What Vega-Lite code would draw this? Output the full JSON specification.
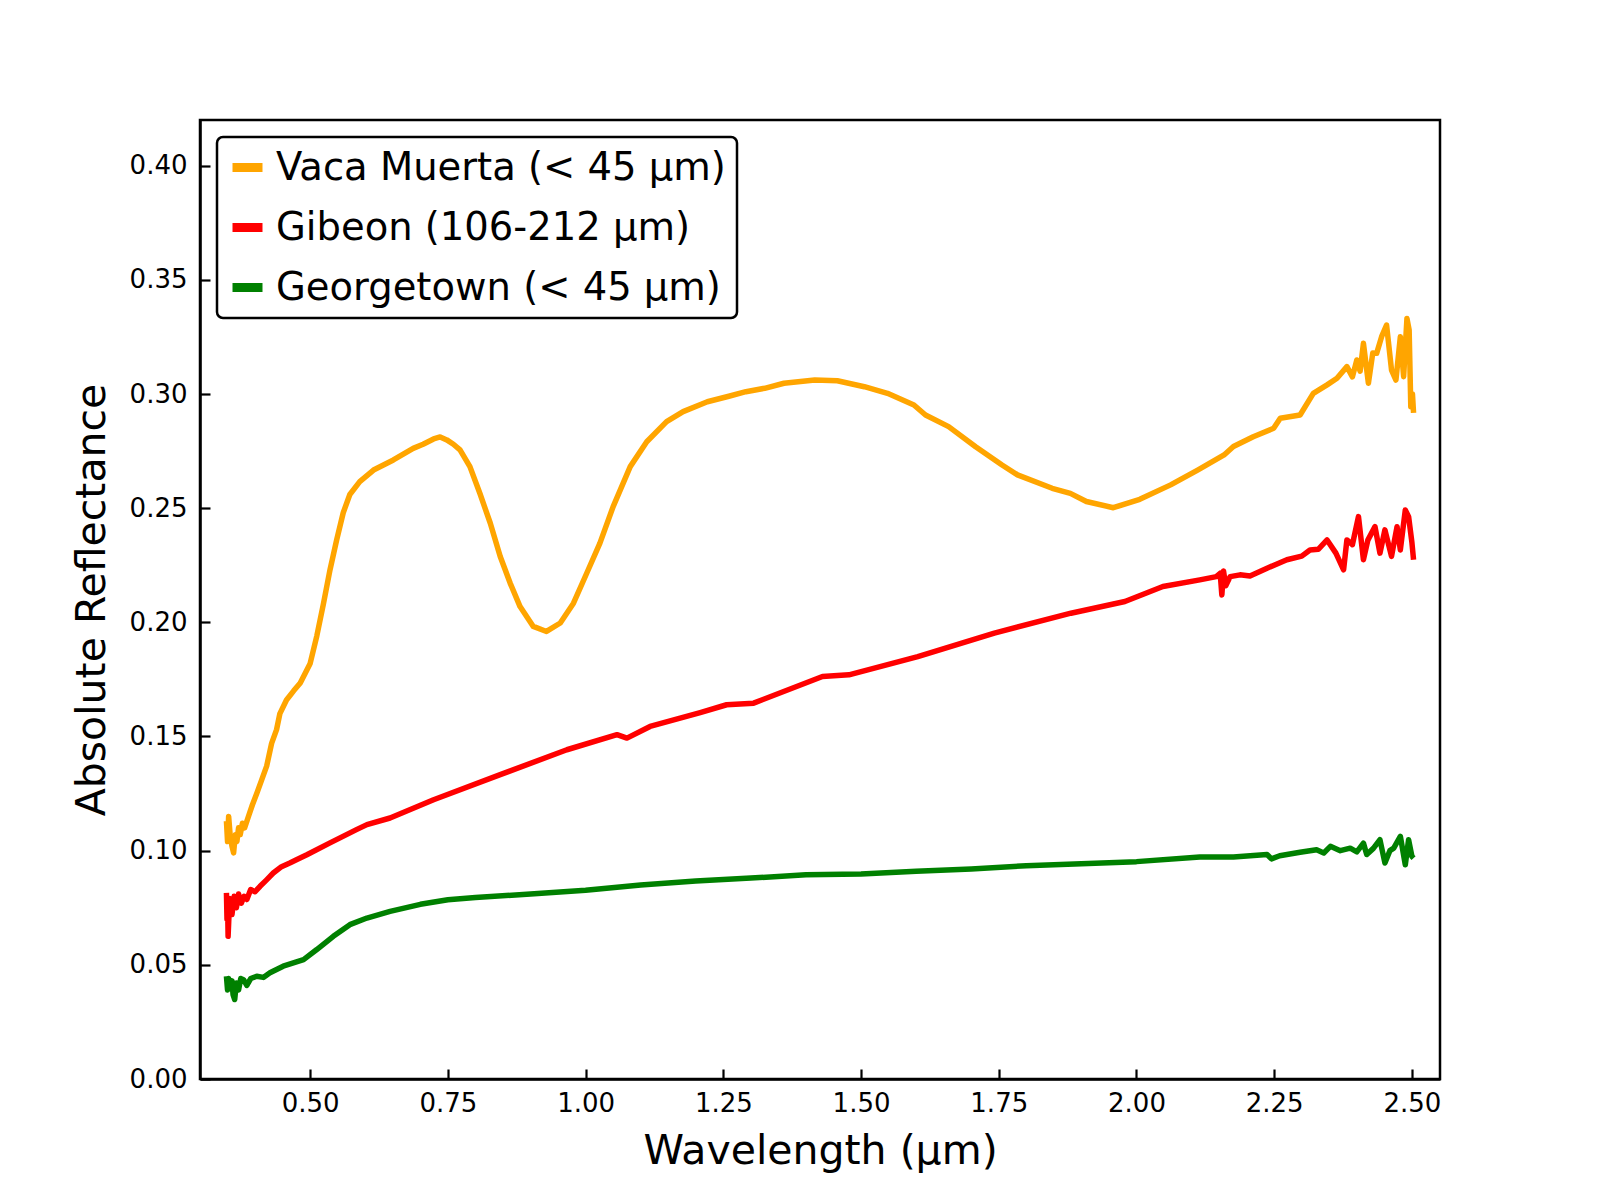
{
  "$schema": "https://vega.github.io/schema/vega-lite/v6.json",
  "autosize": {"type": "none"},
  "padding": {"left": 200, "top": 120, "right": 160, "bottom": 121},
  "width": 1240,
  "height": 959,
  "background": "white",
  "config": {
    "font": "DejaVu Sans",
    "view": {"stroke": "black", "strokeWidth": 2.5},
    "axis": {
      "grid": false,
      "labelFont": "DejaVu Sans",
      "labelFontSize": 26,
      "labelColor": "black",
      "titleFont": "DejaVu Sans",
      "titleFontSize": 41,
      "titleFontWeight": "normal",
      "titleColor": "black",
      "domainColor": "black",
      "domainWidth": 2.5,
      "tickColor": "black",
      "tickWidth": 2.2,
      "tickSize": -10
    },
    "legend": {
      "orient": "top-left",
      "offset": 17,
      "labelFont": "DejaVu Sans",
      "labelFontSize": 38.5,
      "labelColor": "black",
      "labelLimit": 1000,
      "labelOffset": 9,
      "symbolType": "stroke",
      "symbolStrokeWidth": 9,
      "symbolSize": 900,
      "rowPadding": 21,
      "padding": 11,
      "cornerRadius": 6,
      "strokeColor": "black",
      "strokeWidth": 2.5,
      "fillColor": "white"
    }
  },
  "encoding": {
    "x": {
      "field": "w",
      "type": "quantitative",
      "title": "Wavelength (μm)",
      "scale": {"domain": [0.3, 2.551], "nice": false, "zero": false},
      "axis": {"values": [0.5, 0.75, 1.0, 1.25, 1.5, 1.75, 2.0, 2.25, 2.5], "format": ".2f", "labelPadding": 21, "titlePadding": 15}
    },
    "y": {
      "field": "r",
      "type": "quantitative",
      "title": "Absolute Reflectance",
      "scale": {"domain": [0, 0.42], "nice": false},
      "axis": {"values": [0, 0.05, 0.1, 0.15, 0.2, 0.25, 0.3, 0.35, 0.4], "format": ".2f", "labelPadding": 23, "titlePadding": 16}
    }
  },
  "layer": [
    {
      "data": {"values": [
        {"w": 0.348, "r": 0.113}, {"w": 0.350, "r": 0.104}, {"w": 0.352, "r": 0.115}, {"w": 0.355, "r": 0.106},
        {"w": 0.358, "r": 0.102}, {"w": 0.361, "r": 0.099}, {"w": 0.364, "r": 0.107}, {"w": 0.367, "r": 0.104},
        {"w": 0.370, "r": 0.110}, {"w": 0.373, "r": 0.107}, {"w": 0.377, "r": 0.112}, {"w": 0.381, "r": 0.110},
        {"w": 0.388, "r": 0.115}, {"w": 0.395, "r": 0.120}, {"w": 0.403, "r": 0.125}, {"w": 0.412, "r": 0.131},
        {"w": 0.421, "r": 0.137}, {"w": 0.430, "r": 0.147}, {"w": 0.439, "r": 0.153}, {"w": 0.445, "r": 0.160},
        {"w": 0.457, "r": 0.166}, {"w": 0.470, "r": 0.170}, {"w": 0.482, "r": 0.1734}, {"w": 0.500, "r": 0.182},
        {"w": 0.512, "r": 0.194}, {"w": 0.524, "r": 0.208}, {"w": 0.536, "r": 0.223}, {"w": 0.548, "r": 0.236},
        {"w": 0.560, "r": 0.248}, {"w": 0.572, "r": 0.256}, {"w": 0.590, "r": 0.2616}, {"w": 0.615, "r": 0.2667},
        {"w": 0.651, "r": 0.2711}, {"w": 0.687, "r": 0.2762}, {"w": 0.705, "r": 0.278}, {"w": 0.724, "r": 0.2803},
        {"w": 0.736, "r": 0.2812}, {"w": 0.748, "r": 0.2799}, {"w": 0.760, "r": 0.278}, {"w": 0.772, "r": 0.2755},
        {"w": 0.790, "r": 0.2682}, {"w": 0.808, "r": 0.2565}, {"w": 0.827, "r": 0.2434}, {"w": 0.845, "r": 0.2288},
        {"w": 0.863, "r": 0.2172}, {"w": 0.881, "r": 0.2069}, {"w": 0.905, "r": 0.1982}, {"w": 0.929, "r": 0.196},
        {"w": 0.954, "r": 0.1997}, {"w": 0.978, "r": 0.2084}, {"w": 1.002, "r": 0.2215}, {"w": 1.026, "r": 0.2347},
        {"w": 1.050, "r": 0.2507}, {"w": 1.081, "r": 0.2682}, {"w": 1.111, "r": 0.2791}, {"w": 1.147, "r": 0.2879},
        {"w": 1.177, "r": 0.2923}, {"w": 1.221, "r": 0.2966}, {"w": 1.260, "r": 0.299}, {"w": 1.291, "r": 0.301},
        {"w": 1.325, "r": 0.3025}, {"w": 1.360, "r": 0.3047}, {"w": 1.416, "r": 0.3061}, {"w": 1.457, "r": 0.3058},
        {"w": 1.506, "r": 0.3032}, {"w": 1.548, "r": 0.3003}, {"w": 1.596, "r": 0.2952}, {"w": 1.617, "r": 0.2908},
        {"w": 1.659, "r": 0.2857}, {"w": 1.708, "r": 0.2769}, {"w": 1.756, "r": 0.2689}, {"w": 1.784, "r": 0.2646},
        {"w": 1.847, "r": 0.2587}, {"w": 1.880, "r": 0.2565}, {"w": 1.909, "r": 0.2529}, {"w": 1.958, "r": 0.2502},
        {"w": 2.006, "r": 0.2539}, {"w": 2.062, "r": 0.2602}, {"w": 2.111, "r": 0.2667}, {"w": 2.159, "r": 0.2733},
        {"w": 2.176, "r": 0.277}, {"w": 2.212, "r": 0.2813}, {"w": 2.249, "r": 0.285}, {"w": 2.261, "r": 0.2894},
        {"w": 2.297, "r": 0.2908}, {"w": 2.321, "r": 0.3003}, {"w": 2.346, "r": 0.304}, {"w": 2.364, "r": 0.3069},
        {"w": 2.382, "r": 0.312}, {"w": 2.392, "r": 0.3075}, {"w": 2.400, "r": 0.3149}, {"w": 2.406, "r": 0.310},
        {"w": 2.412, "r": 0.3222}, {"w": 2.421, "r": 0.3047}, {"w": 2.429, "r": 0.318}, {"w": 2.436, "r": 0.3178},
        {"w": 2.445, "r": 0.3251}, {"w": 2.454, "r": 0.3302}, {"w": 2.463, "r": 0.3105}, {"w": 2.471, "r": 0.3061},
        {"w": 2.479, "r": 0.3251}, {"w": 2.485, "r": 0.3076}, {"w": 2.491, "r": 0.3331}, {"w": 2.495, "r": 0.328},
        {"w": 2.498, "r": 0.2944}, {"w": 2.501, "r": 0.300}, {"w": 2.503, "r": 0.2917}
      ]},
      "mark": {"type": "line", "strokeWidth": 5.5, "strokeJoin": "round"},
      "encoding": {
        "color": {
          "datum": "Vaca Muerta (< 45 μm)",
          "type": "nominal",
          "scale": {
            "domain": ["Vaca Muerta (< 45 μm)", "Gibeon (106-212 μm)", "Georgetown (< 45 μm)"],
            "range": ["#ffa500", "#ff0000", "#008000"]
          },
          "legend": {"title": null}
        }
      }
    },
    {
      "data": {"values": [
        {"w": 0.348, "r": 0.0815}, {"w": 0.349, "r": 0.070}, {"w": 0.350, "r": 0.078}, {"w": 0.351, "r": 0.0625},
        {"w": 0.353, "r": 0.074}, {"w": 0.355, "r": 0.079}, {"w": 0.358, "r": 0.072}, {"w": 0.362, "r": 0.080},
        {"w": 0.366, "r": 0.075}, {"w": 0.370, "r": 0.081}, {"w": 0.375, "r": 0.077}, {"w": 0.380, "r": 0.080},
        {"w": 0.385, "r": 0.0786}, {"w": 0.392, "r": 0.083}, {"w": 0.400, "r": 0.082}, {"w": 0.409, "r": 0.0844},
        {"w": 0.420, "r": 0.087}, {"w": 0.433, "r": 0.0902}, {"w": 0.448, "r": 0.093}, {"w": 0.463, "r": 0.0946},
        {"w": 0.476, "r": 0.0961}, {"w": 0.494, "r": 0.0982}, {"w": 0.536, "r": 0.1034}, {"w": 0.584, "r": 0.1092},
        {"w": 0.603, "r": 0.1114}, {"w": 0.645, "r": 0.1143}, {"w": 0.724, "r": 0.1223}, {"w": 0.845, "r": 0.1333},
        {"w": 0.966, "r": 0.1442}, {"w": 1.057, "r": 0.1508}, {"w": 1.075, "r": 0.1493}, {"w": 1.117, "r": 0.1544},
        {"w": 1.208, "r": 0.1605}, {"w": 1.256, "r": 0.1639}, {"w": 1.305, "r": 0.1646}, {"w": 1.430, "r": 0.1763},
        {"w": 1.478, "r": 0.177}, {"w": 1.603, "r": 0.185}, {"w": 1.742, "r": 0.1953}, {"w": 1.881, "r": 0.204},
        {"w": 1.979, "r": 0.2091}, {"w": 2.048, "r": 0.2157}, {"w": 2.115, "r": 0.2186}, {"w": 2.145, "r": 0.220},
        {"w": 2.152, "r": 0.2215}, {"w": 2.155, "r": 0.212}, {"w": 2.158, "r": 0.2225}, {"w": 2.162, "r": 0.216},
        {"w": 2.170, "r": 0.220}, {"w": 2.188, "r": 0.2208}, {"w": 2.206, "r": 0.2203}, {"w": 2.237, "r": 0.2237},
        {"w": 2.273, "r": 0.2274}, {"w": 2.300, "r": 0.229}, {"w": 2.315, "r": 0.2317}, {"w": 2.330, "r": 0.232},
        {"w": 2.346, "r": 0.2361}, {"w": 2.362, "r": 0.2303}, {"w": 2.376, "r": 0.223}, {"w": 2.382, "r": 0.2361},
        {"w": 2.392, "r": 0.234}, {"w": 2.403, "r": 0.2463}, {"w": 2.412, "r": 0.2274}, {"w": 2.420, "r": 0.236},
        {"w": 2.433, "r": 0.2419}, {"w": 2.442, "r": 0.2303}, {"w": 2.451, "r": 0.2405}, {"w": 2.463, "r": 0.2289},
        {"w": 2.473, "r": 0.2419}, {"w": 2.479, "r": 0.2317}, {"w": 2.488, "r": 0.2492}, {"w": 2.494, "r": 0.2463},
        {"w": 2.500, "r": 0.235}, {"w": 2.503, "r": 0.2274}
      ]},
      "mark": {"type": "line", "strokeWidth": 5.5, "strokeJoin": "round"},
      "encoding": {
        "color": {"datum": "Gibeon (106-212 μm)", "type": "nominal"}
      }
    },
    {
      "data": {"values": [
        {"w": 0.348, "r": 0.045}, {"w": 0.350, "r": 0.039}, {"w": 0.352, "r": 0.044}, {"w": 0.355, "r": 0.040},
        {"w": 0.358, "r": 0.043}, {"w": 0.360, "r": 0.037}, {"w": 0.363, "r": 0.0348}, {"w": 0.366, "r": 0.042},
        {"w": 0.370, "r": 0.039}, {"w": 0.374, "r": 0.044}, {"w": 0.379, "r": 0.0435}, {"w": 0.385, "r": 0.041},
        {"w": 0.392, "r": 0.044}, {"w": 0.403, "r": 0.045}, {"w": 0.415, "r": 0.0445}, {"w": 0.427, "r": 0.0465},
        {"w": 0.451, "r": 0.0494}, {"w": 0.488, "r": 0.0523}, {"w": 0.512, "r": 0.0567}, {"w": 0.542, "r": 0.0625},
        {"w": 0.572, "r": 0.0676}, {"w": 0.603, "r": 0.0705}, {"w": 0.645, "r": 0.0734}, {"w": 0.700, "r": 0.0765},
        {"w": 0.750, "r": 0.0785}, {"w": 0.800, "r": 0.0795}, {"w": 0.900, "r": 0.081}, {"w": 1.000, "r": 0.0827},
        {"w": 1.100, "r": 0.085}, {"w": 1.200, "r": 0.0867}, {"w": 1.300, "r": 0.088}, {"w": 1.400, "r": 0.0894},
        {"w": 1.500, "r": 0.0898}, {"w": 1.600, "r": 0.091}, {"w": 1.700, "r": 0.092}, {"w": 1.800, "r": 0.0934},
        {"w": 1.900, "r": 0.0943}, {"w": 2.000, "r": 0.0952}, {"w": 2.115, "r": 0.0972}, {"w": 2.176, "r": 0.0972},
        {"w": 2.237, "r": 0.0983}, {"w": 2.245, "r": 0.0964}, {"w": 2.260, "r": 0.0978}, {"w": 2.297, "r": 0.0993},
        {"w": 2.327, "r": 0.1004}, {"w": 2.340, "r": 0.099}, {"w": 2.352, "r": 0.1019}, {"w": 2.370, "r": 0.100},
        {"w": 2.388, "r": 0.1011}, {"w": 2.400, "r": 0.0995}, {"w": 2.412, "r": 0.1033}, {"w": 2.418, "r": 0.0983},
        {"w": 2.430, "r": 0.101}, {"w": 2.442, "r": 0.1048}, {"w": 2.451, "r": 0.0946}, {"w": 2.460, "r": 0.100},
        {"w": 2.467, "r": 0.1011}, {"w": 2.479, "r": 0.1063}, {"w": 2.488, "r": 0.0938}, {"w": 2.494, "r": 0.1048},
        {"w": 2.500, "r": 0.0975}, {"w": 2.503, "r": 0.0967}
      ]},
      "mark": {"type": "line", "strokeWidth": 5.5, "strokeJoin": "round"},
      "encoding": {
        "color": {"datum": "Georgetown (< 45 μm)", "type": "nominal"}
      }
    }
  ]
}
